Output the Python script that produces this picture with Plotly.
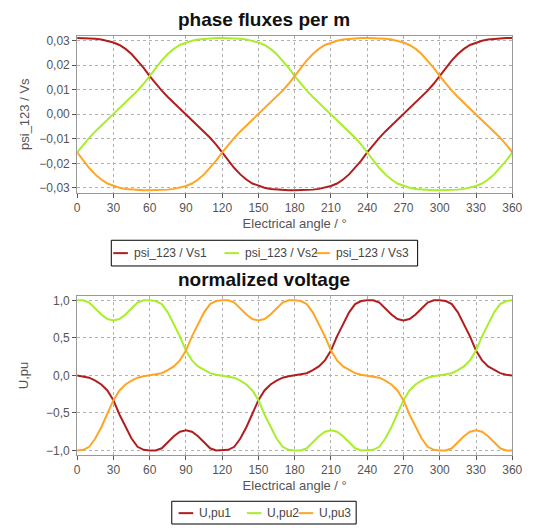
import plotly.graph_objects as go

angle = list(range(0, 365, 5))

psi1 = [0.0310, 0.0310, 0.0309, 0.0307, 0.0304, 0.0299, 0.0292, 0.0282, 0.0266, 0.0245,
        0.0219, 0.0189, 0.0155, 0.0124, 0.0096, 0.0070, 0.0046, 0.0023, 0.0000, -0.0023,
        -0.0046, -0.0070, -0.0096, -0.0124, -0.0155, -0.0189, -0.0219, -0.0245, -0.0266, -0.0282,
        -0.0292, -0.0299, -0.0304, -0.0307, -0.0309, -0.0310, -0.0310, -0.0310, -0.0309, -0.0307,
        -0.0304, -0.0299, -0.0292, -0.0282, -0.0266, -0.0245, -0.0219, -0.0189, -0.0155, -0.0124,
        -0.0096, -0.0070, -0.0046, -0.0023, 0.0000, 0.0023, 0.0046, 0.0070, 0.0096, 0.0124,
        0.0155, 0.0189, 0.0219, 0.0245, 0.0266, 0.0282, 0.0292, 0.0299, 0.0304, 0.0307,
        0.0309, 0.0310, 0.0310]

psi2 = [-0.0155, -0.0124, -0.0096, -0.0070, -0.0046, -0.0023, 0.0000, 0.0023, 0.0046, 0.0070,
        0.0096, 0.0124, 0.0155, 0.0189, 0.0219, 0.0245, 0.0266, 0.0282, 0.0292, 0.0299,
        0.0304, 0.0307, 0.0309, 0.0310, 0.0310, 0.0310, 0.0309, 0.0307, 0.0304, 0.0299,
        0.0292, 0.0282, 0.0266, 0.0245, 0.0219, 0.0189, 0.0155, 0.0124, 0.0096, 0.0070,
        0.0046, 0.0023, 0.0000, -0.0023, -0.0046, -0.0070, -0.0096, -0.0124, -0.0155, -0.0189,
        -0.0219, -0.0245, -0.0266, -0.0282, -0.0292, -0.0299, -0.0304, -0.0307, -0.0309, -0.0310,
        -0.0310, -0.0310, -0.0309, -0.0307, -0.0304, -0.0299, -0.0292, -0.0282, -0.0266, -0.0245,
        -0.0219, -0.0189, -0.0155]

psi3 = [-0.0155, -0.0189, -0.0219, -0.0245, -0.0266, -0.0282, -0.0292, -0.0299, -0.0304, -0.0307,
        -0.0309, -0.0310, -0.0310, -0.0310, -0.0309, -0.0307, -0.0304, -0.0299, -0.0292, -0.0282,
        -0.0266, -0.0245, -0.0219, -0.0189, -0.0155, -0.0124, -0.0096, -0.0070, -0.0046, -0.0023,
        0.0000, 0.0023, 0.0046, 0.0070, 0.0096, 0.0124, 0.0155, 0.0189, 0.0219, 0.0245,
        0.0266, 0.0282, 0.0292, 0.0299, 0.0304, 0.0307, 0.0309, 0.0310, 0.0310, 0.0310,
        0.0309, 0.0307, 0.0304, 0.0299, 0.0292, 0.0282, 0.0266, 0.0245, 0.0219, 0.0189,
        0.0155, 0.0124, 0.0096, 0.0070, 0.0046, 0.0023, 0.0000, -0.0023, -0.0046, -0.0070,
        -0.0096, -0.0124, -0.0155]

u1 = [0.00, -0.01, -0.03, -0.07, -0.12, -0.20, -0.33, -0.52, -0.69, -0.84,
      -0.95, -0.99, -1.00, -1.00, -0.97, -0.89, -0.81, -0.75, -0.73, -0.75,
      -0.81, -0.89, -0.97, -1.00, -1.00, -0.99, -0.95, -0.84, -0.69, -0.52,
      -0.33, -0.20, -0.12, -0.07, -0.03, -0.01, 0.00, 0.01, 0.03, 0.07,
      0.12, 0.20, 0.33, 0.52, 0.69, 0.84, 0.95, 0.99, 1.00, 1.00,
      0.97, 0.89, 0.81, 0.75, 0.73, 0.75, 0.81, 0.89, 0.97, 1.00,
      1.00, 0.99, 0.95, 0.84, 0.69, 0.52, 0.33, 0.20, 0.12, 0.07,
      0.03, 0.01, 0.00]

u2 = [1.00, 1.00, 0.97, 0.89, 0.81, 0.75, 0.73, 0.75, 0.81, 0.89,
      0.97, 1.00, 1.00, 0.99, 0.95, 0.84, 0.69, 0.52, 0.33, 0.20,
      0.12, 0.07, 0.03, 0.01, 0.00, -0.01, -0.03, -0.07, -0.12, -0.20,
      -0.33, -0.52, -0.69, -0.84, -0.95, -0.99, -1.00, -1.00, -0.97, -0.89,
      -0.81, -0.75, -0.73, -0.75, -0.81, -0.89, -0.97, -1.00, -1.00, -0.99,
      -0.95, -0.84, -0.69, -0.52, -0.33, -0.20, -0.12, -0.07, -0.03, -0.01,
      0.00, 0.01, 0.03, 0.07, 0.12, 0.20, 0.33, 0.52, 0.69, 0.84,
      0.95, 0.99, 1.00]

u3 = [-1.00, -0.99, -0.95, -0.84, -0.69, -0.52, -0.33, -0.20, -0.12, -0.07,
      -0.03, -0.01, 0.00, 0.01, 0.03, 0.07, 0.12, 0.20, 0.33, 0.52,
      0.69, 0.84, 0.95, 0.99, 1.00, 1.00, 0.97, 0.89, 0.81, 0.75,
      0.73, 0.75, 0.81, 0.89, 0.97, 1.00, 1.00, 0.99, 0.95, 0.84,
      0.69, 0.52, 0.33, 0.20, 0.12, 0.07, 0.03, 0.01, 0.00, -0.01,
      -0.03, -0.07, -0.12, -0.20, -0.33, -0.52, -0.69, -0.84, -0.95, -0.99,
      -1.00, -1.00, -0.97, -0.89, -0.81, -0.75, -0.73, -0.75, -0.81, -0.89,
      -0.97, -1.00, -1.00]

x_ticks = [0, 30, 60, 90, 120, 150, 180, 210, 240, 270, 300, 330, 360]
psi_ticks = [-0.03, -0.02, -0.01, 0.0, 0.01, 0.02, 0.03]
u_ticks = [-1.0, -0.5, 0.0, 0.5, 1.0]

flux_names = ["psi_123 / Vs1", "psi_123 / Vs2", "psi_123 / Vs3"]
volt_names = ["U,pu1", "U,pu2", "U,pu3"]
colors = ["#b01e1e", "#a8ee2a", "#ffa526"]

W, H = 533, 528
font = "Liberation Sans, Arial, sans-serif"

fig = go.Figure()
for name, ys, c in zip(flux_names, [psi1, psi2, psi3], colors):
    fig.add_trace(go.Scatter(x=angle, y=ys, mode="lines", name=name, showlegend=False,
                             line=dict(color=c, width=2), xaxis="x", yaxis="y"))
for name, ys, c in zip(volt_names, [u1, u2, u3], colors):
    fig.add_trace(go.Scatter(x=angle, y=ys, mode="lines", name=name, showlegend=False,
                             line=dict(color=c, width=2), xaxis="x2", yaxis="y2"))

# custom compact legends (box, short line samples, labels) in pixel layout
def px(x):
    return x / W

def py(y):
    return 1 - y / H

shapes = []
annotations = []
legend_specs = [
    # box (x0, y0, x1, y1), text centre y, item line starts, names
    ((111, 240, 425, 266), 253, [113, 227, 320], flux_names),
    ((173, 504, 362, 527), 516, [180, 250, 303], volt_names),
]
for (bx0, by0, bx1, by1), ty, starts, names in legend_specs:
    shapes.append(dict(type="rect", xref="paper", yref="paper",
                       x0=px(bx0), x1=px(bx1), y0=py(by1), y1=py(by0),
                       line=dict(color="#000000", width=1), fillcolor="white", layer="above"))
    for xs, name, c in zip(starts, names, colors):
        shapes.append(dict(type="line", xref="paper", yref="paper",
                           x0=px(xs), x1=px(xs + 15), y0=py(ty), y1=py(ty),
                           line=dict(color=c, width=2), layer="above"))
        annotations.append(dict(text=name, x=px(xs + 19), y=py(ty), xref="paper", yref="paper",
                                showarrow=False, xanchor="left", yanchor="middle",
                                font=dict(family=font, size=12, color="#444444")))

annotations += [
    dict(text="<b>phase fluxes per m</b>", x=268 / W, y=1 - 17 / H, xref="paper", yref="paper",
         showarrow=False, font=dict(family=font, size=19, color="#111111"), xanchor="center", yanchor="middle"),
    dict(text="<b>normalized voltage</b>", x=268 / W, y=1 - 280 / H, xref="paper", yref="paper",
         showarrow=False, font=dict(family=font, size=19, color="#111111"), xanchor="center", yanchor="middle"),
]

tickfont = dict(family=font, size=12, color="#555555")
axis_common = dict(showline=True, linecolor="#999999", linewidth=1, mirror=True,
                   ticks="outside", ticklen=4, tickcolor="#555555",
                   showgrid=True, gridcolor="#b0b0b0", griddash="dot", gridwidth=1,
                   zeroline=False, tickfont=tickfont)
title_font = dict(family=font, size=13, color="#555555")

xdom = [76 / W, 522 / W]
fig.update_layout(
    width=W, height=H,
    margin=dict(l=0, r=0, t=0, b=0),
    paper_bgcolor="white", plot_bgcolor="white",
    separators=",.",
    showlegend=False,
    font=dict(family=font, size=12, color="#555555"),
    xaxis=dict(domain=xdom, anchor="y", range=[0, 360], tickvals=x_ticks,
               title=dict(text="Electrical angle / °", font=title_font, standoff=4),
               **axis_common),
    yaxis=dict(domain=[1 - 192 / H, 1 - 33 / H], anchor="x", range=[-0.032, 0.032],
               tickvals=psi_ticks, tickformat=".2f",
               title=dict(text="psi_123 / Vs", font=title_font, standoff=6),
               **axis_common),
    xaxis2=dict(domain=xdom, anchor="y2", range=[0, 360], tickvals=x_ticks,
                title=dict(text="Electrical angle / °", font=title_font, standoff=4),
                **axis_common),
    yaxis2=dict(domain=[1 - 456.7 / H, 1 - 296.7 / H], anchor="x2", range=[-1.053, 1.053],
                tickvals=u_ticks, tickformat=".1f",
                title=dict(text="U,pu", font=title_font, standoff=14),
                **axis_common),
    shapes=shapes,
    annotations=annotations,
)

fig.write_html("out.html")
